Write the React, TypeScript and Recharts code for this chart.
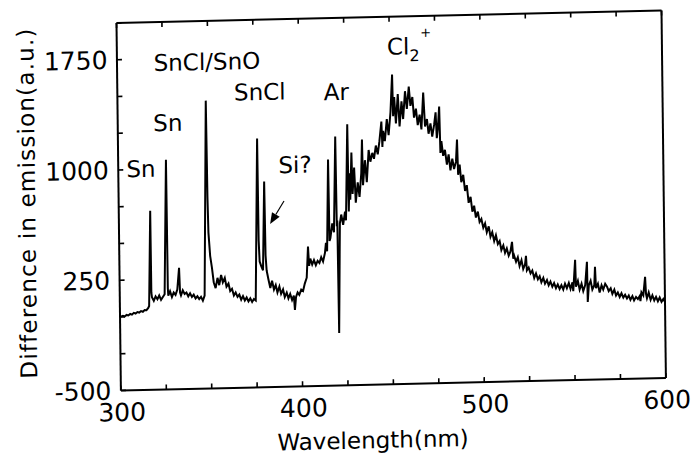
import React from "react";
import { LineChart, Line, XAxis, YAxis, ReferenceDot, ReferenceLine } from "recharts";

// ---- data (wavelength nm, difference in emission a.u.) ----
const segmentSnLines: [number, number][] = [
  [300, 1], [301.6, 7], [302.6, 3], [303.6, 13], [304.6, 9], [305.6, 19], [306.6, 14], [307.6, 26],
  [308.6, 21], [309.6, 31], [310.6, 27], [311.6, 37], [312.6, 32], [313.6, 44], [314.6, 42], [315.6, 57],
  [316.1, 70], [317.3, 718], [317.4, 160], [317.7, 130], [318.7, 105], [319.7, 135], [320.7, 115],
  [321.7, 140], [322.7, 110], [323.7, 129], [324.7, 148], [326.3, 1062], [326.5, 188], [326.7, 138],
  [327.7, 168], [328.7, 128], [329.7, 158], [330.7, 142], [331.7, 177], [332.8, 325], [333.2, 157],
  [333.7, 137], [334.7, 171], [335.7, 146], [336.7, 156], [337.7, 130], [338.7, 150], [339.7, 125],
  [340.7, 140], [341.7, 115], [342.7, 129], [343.7, 109], [344.7, 124], [345.7, 98], [346.7, 133],
];
const segmentSnClBands: [number, number][] = [
  [348.6, 1458], [348.9, 802], [349.2, 562], [350.0, 402], [350.9, 322], [351.8, 222], [352.8, 181],
  [353.9, 251], [354.8, 201], [355.9, 270], [356.8, 220], [357.9, 250], [358.8, 190], [359.9, 210],
  [360.8, 159], [361.8, 174], [362.8, 129], [363.8, 149], [364.8, 119], [365.8, 134], [366.8, 99],
  [367.8, 123], [368.8, 93], [369.8, 113], [370.8, 86], [371.8, 106], [372.8, 81], [373.8, 101],
  [374.8, 91], [376.6, 1193], [376.8, 496], [377.2, 356], [378.0, 326], [379.0, 295], [380.2, 899],
  [380.5, 395], [381.0, 293], [381.9, 233], [382.9, 173], [383.9, 223], [384.9, 163], [385.9, 193],
  [386.8, 142], [387.9, 182], [388.8, 132], [389.9, 162], [390.8, 110], [391.9, 140], [392.8, 100],
  [393.8, 130], [394.8, 89], [395.8, 119], [396.3, 21], [397.0, 109], [397.9, 139], [398.8, 123],
  [399.9, 158],
];
const segmentArRise: [number, number][] = [
  [400.9, 148], [401.9, 198], [403.0, 238], [403.9, 449], [404.4, 318], [405.1, 367], [406.1, 327],
  [407.1, 357], [408.1, 322], [409.1, 351], [410.1, 336], [411.1, 375], [412.1, 345], [413.2, 404],
  [413.8, 472], [414.4, 414], [415.5, 1038], [415.8, 484], [416.3, 504], [417.4, 603], [418.3, 543],
  [419.6, 1194], [419.9, 583], [420.2, 622], [420.5, -143], [421.6, 602], [422.4, 662], [423.4, 592],
  [424.5, 682], [425.0, 622], [426.3, 1275], [426.6, 682], [427.2, 941], [427.5, 761], [428.4, 1083],
  [428.8, 801], [429.8, 980], [430.5, 740], [431.7, 879], [432.6, 779], [433.7, 939], [434.3, 1169],
  [434.6, 858], [435.8, 1028], [436.7, 878], [437.9, 1097], [438.8, 1017], [439.9, 1077],
  [440.8, 1036], [441.9, 1126], [442.9, 1066], [443.9, 1155], [445.1, 1288], [445.5, 1115],
  [446.0, 1225], [446.9, 1155], [448.1, 1304], [449.0, 1194], [450.2, 1353], [451.3, 1607],
  [451.6, 1323],
];
const segmentCl2Band: [number, number][] = [
  [452.3, 1453], [453.1, 1273], [454.3, 1472], [455.1, 1252], [456.3, 1422], [457.1, 1302],
  [458.3, 1491], [459.2, 1371], [460.4, 1521], [461.2, 1390], [462.3, 1450], [463.1, 1310],
  [464.2, 1370], [465.1, 1259], [466.2, 1329], [467.1, 1229], [468.3, 1479], [469.1, 1248],
  [470.2, 1298], [471.0, 1198], [472.1, 1268], [473.0, 1178], [474.1, 1257], [475.0, 1342],
  [475.5, 1167], [476.1, 1227], [477.0, 1382], [477.4, 1066], [478.0, 1146], [478.9, 1046],
  [479.9, 1086], [480.9, 985], [481.9, 1055], [482.8, 945], [483.9, 1025], [484.8, 954],
  [485.9, 1004], [486.6, 1154], [487.0, 914], [487.9, 984], [488.7, 863], [489.8, 913], [490.7, 803],
  [491.7, 842], [492.6, 722], [493.7, 762], [494.6, 661], [495.6, 701], [496.5, 621], [497.6, 661],
  [498.5, 590], [499.5, 610], [500.5, 550],
];
const segmentTail: [number, number][] = [
  [501.5, 579], [502.4, 519], [503.5, 559], [504.4, 488], [505.4, 518], [506.4, 458], [507.4, 497],
  [508.4, 437], [509.4, 457], [510.3, 396], [511.4, 427], [512.3, 376], [513.3, 406], [514.3, 356],
  [515.3, 385], [516.2, 450], [516.8, 335], [517.3, 355], [518.3, 314], [519.3, 344], [520.2, 284],
  [521.3, 324], [522.2, 263], [523.2, 293], [523.8, 353], [524.2, 253], [525.2, 272], [526.2, 232],
  [527.2, 252], [528.2, 201], [529.2, 231], [530.2, 191], [531.2, 211], [532.1, 170], [533.2, 200],
  [534.1, 160], [535.2, 184], [536.1, 149], [537.1, 174], [538.1, 138], [539.1, 163], [540.1, 128],
  [541.1, 153], [542.1, 122], [543.1, 147], [544.1, 117], [545.1, 157], [546.1, 126], [547.2, 161],
  [548.1, 120], [549.2, 165], [549.6, 105], [550.8, 317], [551.1, 135], [552.2, 174], [553.1, 114],
  [554.2, 154], [555.1, 104], [556.2, 144], [557.3, 302], [557.5, 29], [558.2, 143], [559.2, 173],
  [560.1, 113], [561.2, 142], [561.7, 267], [562.1, 122], [563.2, 151], [564.1, 91], [565.2, 141],
  [566.1, 111], [567.2, 150], [568.2, 130], [569.1, 100], [570.2, 119], [571.1, 80], [572.2, 109],
  [573.1, 69], [574.1, 89], [575.1, 58], [576.1, 83], [577.1, 53], [578.1, 72], [579.1, 47],
  [580.1, 67], [581.0, 37], [582.1, 62], [583.0, 32], [584.1, 56], [585.1, 41], [586.1, 61],
  [586.5, 26], [587.1, 86], [588.1, 65], [589.2, 191], [589.6, 75], [590.1, 45], [591.1, 84],
  [592.1, 34], [593.1, 64], [594.1, 29], [595.1, 53], [596.1, 23], [597.1, 48], [598.1, 18],
  [599.1, 37], [600, 17],
];

const xTicks = [300, 325, 350, 375, 400, 425, 450, 475, 500, 525, 550, 575, 600];
const xLabelled = [300, 400, 500, 600];
const yTicks = [-500, -250, 0, 250, 500, 750, 1000, 1250, 1500, 1750, 2000];
const yLabelled = [-500, 250, 1000, 1750];

const peakLabels: { text: string; nm: number; value: number }[] = [
  { text: "Sn", nm: 312.5, value: 949 },
  { text: "Sn", nm: 327.6, value: 1258 },
  { text: "SnCl/SnO", nm: 349.5, value: 1667 },
  { text: "SnCl", nm: 378.4, value: 1454 },
  { text: "Si?", nm: 397.3, value: 952 },
  { text: "Ar", nm: 420.5, value: 1442 },
];
const cl2Label = { nm: 448.6, value: 1741 };
const arrowFrom = { nm: 391.0, value: 763 };
const arrowTo = { nm: 383.2, value: 609 };

const spectrum = [
  ...segmentSnLines,
  ...segmentSnClBands,
  ...segmentArRise,
  ...segmentCl2Band,
  ...segmentTail,
].map(([nm, emission]) => ({ nm, emission }));

// ---- layout ----
const W = 697;
const H = 457;
const PLOT = { left: 120.5, right: 665.5, top: 19, bottom: 386.5 };
const FONT = "'DejaVu Sans', sans-serif";
const TICK_LEN = 5;

const LeftTick = (props: any) => {
  const { y, payload } = props;
  const v = payload.value;
  return (
    <g>
      <line x1={PLOT.left} x2={PLOT.left + TICK_LEN} y1={y} y2={y} stroke="#000" strokeWidth={1.6} />
      {yLabelled.includes(v) && (
        <text x={111} y={y} dy={9} textAnchor="end" fontFamily={FONT} fontSize={25} fill="#000">
          {String(v)}
        </text>
      )}
    </g>
  );
};
const RightTick = (props: any) => {
  const { y } = props;
  return <line x1={PLOT.right} x2={PLOT.right - TICK_LEN} y1={y} y2={y} stroke="#000" strokeWidth={1.6} />;
};
const BottomTick = (props: any) => {
  const { x, payload } = props;
  const v = payload.value;
  return (
    <g>
      <line x1={x} x2={x} y1={PLOT.bottom} y2={PLOT.bottom - TICK_LEN} stroke="#000" strokeWidth={1.6} />
      {xLabelled.includes(v) && (
        <text x={x + 1} y={417} textAnchor="middle" fontFamily={FONT} fontSize={25} fill="#000">
          {String(v)}
        </text>
      )}
    </g>
  );
};
const TopTick = (props: any) => {
  const { x } = props;
  return <line x1={x} x2={x} y1={PLOT.top} y2={PLOT.top + TICK_LEN} stroke="#000" strokeWidth={1.6} />;
};

const Arrow = (props: any) => {
  const { x1, y1, x2, y2 } = props;
  if ([x1, y1, x2, y2].some((n) => typeof n !== "number")) return null;
  const dx = x2 - x1;
  const dy = y2 - y1;
  const len = Math.sqrt(dx * dx + dy * dy);
  const ux = dx / len;
  const uy = dy / len;
  const headLen = 11;
  const headW = 4.5;
  const bx = x2 - ux * headLen;
  const by = y2 - uy * headLen;
  const px = -uy * headW;
  const py = ux * headW;
  return (
    <g>
      <line x1={x1} y1={y1} x2={bx} y2={by} stroke="#000" strokeWidth={1.2} />
      <polygon points={`${x2},${y2} ${bx + px},${by + py} ${bx - px},${by - py}`} fill="#000" />
    </g>
  );
};

export default function App() {
  return (
    <div
      style={{
        position: "absolute",
        left: 0,
        top: 0,
        width: W,
        height: H,
        background: "#fff",
        transformOrigin: "0 0",
        transform: "matrix(1, -0.023, 0.012, 1, -4.23, 6.76)",
      }}
    >
      <LineChart
        width={W}
        height={H}
        data={spectrum}
        margin={{ top: PLOT.top - 1, right: W - PLOT.right - 1, bottom: 30.5, left: 40.5 }}
      >
        <XAxis
          dataKey="nm"
          type="number"
          domain={[300, 600]}
          ticks={xTicks}
          interval={0}
          height={40}
          axisLine={{ stroke: "#000", strokeWidth: 2 }}
          tickLine={false}
          tick={<BottomTick />}
        />
        <XAxis
          xAxisId="top"
          orientation="top"
          dataKey="nm"
          type="number"
          domain={[300, 600]}
          ticks={xTicks}
          interval={0}
          height={1}
          axisLine={{ stroke: "#000", strokeWidth: 2 }}
          tickLine={false}
          tick={<TopTick />}
        />
        <YAxis
          type="number"
          domain={[-500, 2000]}
          ticks={yTicks}
          interval={0}
          width={80}
          axisLine={{ stroke: "#000", strokeWidth: 2 }}
          tickLine={false}
          tick={<LeftTick />}
        />
        <YAxis
          yAxisId="right"
          orientation="right"
          type="number"
          domain={[-500, 2000]}
          ticks={yTicks}
          interval={0}
          width={1}
          axisLine={{ stroke: "#000", strokeWidth: 2 }}
          tickLine={false}
          tick={<RightTick />}
        />
        <Line
          type="linear"
          dataKey="emission"
          stroke="#000"
          strokeWidth={2}
          strokeLinejoin="miter"
          dot={false}
          isAnimationActive={false}
        />
        {peakLabels.map((p, i) => (
          <ReferenceDot
            key={i}
            x={p.nm}
            y={p.value}
            r={0}
            shape={(s: any) => (
              <text x={s.cx} y={s.cy} textAnchor="middle" fontFamily={FONT} fontSize={23} fill="#000">
                {p.text}
              </text>
            )}
          />
        ))}
        <ReferenceDot
          x={cl2Label.nm}
          y={cl2Label.value}
          r={0}
          shape={(s: any) => (
            <text x={s.cx} y={s.cy} fontFamily={FONT} fontSize={23} fill="#000">
              <tspan>Cl</tspan>
              <tspan dy={7} fontSize={16}>2</tspan>
              <tspan dy={-24} dx={1} fontSize={13}>+</tspan>
            </text>
          )}
        />
        <ReferenceLine
          segment={[
            { x: arrowFrom.nm, y: arrowFrom.value },
            { x: arrowTo.nm, y: arrowTo.value },
          ]}
          shape={<Arrow />}
        />
      </LineChart>
      <svg
        width={W}
        height={H}
        style={{ position: "absolute", left: 0, top: 0, pointerEvents: "none" }}
      >
        <text x={372} y={450} textAnchor="middle" fontFamily={FONT} fontSize={23} fill="#000">
          Wavelength(nm)
        </text>
        <text
          x={37}
          y={197}
          textAnchor="middle"
          fontFamily={FONT}
          fontSize={23}
          letterSpacing={1.2}
          fill="#000"
          transform="rotate(-90 37 197)"
        >
          Difference in emission(a.u.)
        </text>
      </svg>
    </div>
  );
}
